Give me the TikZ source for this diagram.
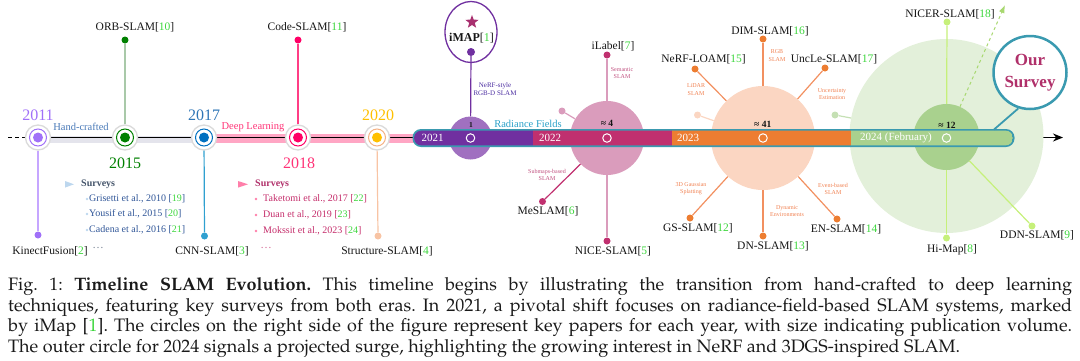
\documentclass[tikz,border=0pt]{standalone}
\usepackage[T1]{fontenc}
\usepackage{fontspec}
\setmainfont{Liberation Serif}
\usetikzlibrary{arrows.meta,shapes.geometric}
\IfFileExists{t1qpl.fd}{%
  \newcommand\capfont{\fontencoding{T1}\fontfamily{qpl}\selectfont\fontsize{18}{20.8}\selectfont}}{%
  \IfFileExists{t1ppl.fd}{%
    \newcommand\capfont{\fontencoding{T1}\fontfamily{ppl}\selectfont\fontsize{18}{20.8}\selectfont}}{%
    \newcommand\capfont{\rmfamily\fontsize{18.5}{20.8}\selectfont}}}
\definecolor{citeg}{HTML}{3CD63C}
\definecolor{lblcol}{HTML}{151515}
\definecolor{c11}{HTML}{A070F8}
\definecolor{c11s}{HTML}{C6A6FF}
\definecolor{c15}{HTML}{008000}
\definecolor{c15s}{HTML}{A9C9A9}
\definecolor{c17}{HTML}{0070C0}
\definecolor{c17y}{HTML}{2E75B6}
\definecolor{c17s}{HTML}{2FA0D0}
\definecolor{c18}{HTML}{FF0066}
\definecolor{c18y}{HTML}{FF3377}
\definecolor{c18s}{HTML}{FF3D85}
\definecolor{c20}{HTML}{FFC000}
\definecolor{c20r}{HTML}{F4B183}
\definecolor{c20s}{HTML}{F8C4A4}
\definecolor{ringgray}{HTML}{DADADA}
\definecolor{bandgray}{HTML}{E4E4EC}
\definecolor{bandpink}{HTML}{FFA6C4}
\definecolor{p21}{HTML}{7030A0}
\definecolor{p21l}{HTML}{A070C0}
\definecolor{p21t}{HTML}{4B2DA0}
\definecolor{starcol}{HTML}{A8306F}
\definecolor{p22}{HTML}{C0306F}
\definecolor{p22l}{HTML}{DA9CBC}
\definecolor{p22t}{HTML}{C0507F}
\definecolor{p23}{HTML}{ED7D31}
\definecolor{p23l}{HTML}{FBD6C2}
\definecolor{p23s}{HTML}{F29060}
\definecolor{p23t}{HTML}{F08050}
\definecolor{p24}{HTML}{A9D18E}
\definecolor{p24l}{HTML}{E3F0DA}
\definecolor{p24s}{HTML}{C6F07A}
\definecolor{p24a}{HTML}{A8D870}
\definecolor{p24d}{HTML}{C5E0B4}
\definecolor{barteal}{HTML}{3A9AB0}
\definecolor{rfblue}{HTML}{2AA0C8}
\definecolor{oscol}{HTML}{B0306A}
\definecolor{hcblue}{HTML}{4A7AB8}
\definecolor{svAh}{HTML}{44546A}
\definecolor{svAi}{HTML}{2F5597}
\definecolor{svAt}{HTML}{BDD7EE}
\definecolor{svBh}{HTML}{B0306A}
\definecolor{svBi}{HTML}{C42C6A}
\definecolor{svBt}{HTML}{FF7FAA}
\definecolor{capcol}{HTML}{1A1A1A}
\newcommand\cit[1]{[\textcolor{citeg}{#1}]}
\begin{document}
\begin{tikzpicture}[x=1pt,y=-1pt,
  lbl/.style={font=\fontsize{11.5}{13}\selectfont, text=lblcol, inner sep=0},
  tinylbl/.style={font=\fontsize{6}{7.5}\selectfont, align=center, inner sep=0},
  yearlbl/.style={font=\fontsize{16}{18}\selectfont, inner sep=0},
  barlbl/.style={font=\fontsize{11}{12}\selectfont, text=white, inner sep=0},
  cntlbl/.style={font=\bfseries\fontsize{9.5}{10}\selectfont, text=lblcol, inner sep=0},
  svitem/.style={font=\fontsize{10}{11}\selectfont, inner sep=0, anchor=west},
  enddot/.style={circle, fill=#1, minimum size=7, inner sep=0},
  outerring/.style={circle, draw=ringgray, line width=1.3, fill=white, minimum size=25, inner sep=0},
  midring/.style={circle, draw=#1, line width=1, minimum size=17, inner sep=0},
  coredot/.style={circle, fill=#1, minimum size=10, inner sep=0},
  bigcirc/.style={circle, fill=#1, inner sep=0},
  wring/.style={circle, draw=white, line width=1, minimum size=8.5, inner sep=0},
  stem/.style={#1, line width=1.2}]
\useasboundingbox (0,0) rectangle (1080,360);

% ---- left part: bands and axis
\draw[bandgray, line width=7] (38,139) -- (204,139);
\draw[bandpink, line width=9] (204,138.5) -- (414,138.5);
\draw[black, line width=1.2, dash pattern=on 4 off 3] (8,137.5) -- (25,137.5);
\coordinate (axs) at (25,137.5);
\coordinate (axe) at (1063,137.5);
\draw[black, line width=1.3, -{Stealth[length=10,width=8]}] (axs) -- (axe);

% ---- year markers
\foreach \n/\x/\cr/\cd in {m11/38/c11/c11, m15/125/c15/c15, m17/204/c17/c17, m18/298/c18/c18, m20/377/c20r/c20}{
  \node[outerring] (\n) at (\x,137.5) {};
  \node[midring=\cr] at (\n) {};
  \node[coredot=\cd] at (\n) {};
}

\node[yearlbl, text=c11] at (38,115) {2011};
\node[yearlbl, text=c15] at (125,163) {2015};
\node[yearlbl, text=c17y] at (204,115) {2017};
\node[yearlbl, text=c18y] at (299,163) {2018};
\node[yearlbl, text=c20] at (378,115) {2020};

\node[font=\fontsize{10.5}{12}\selectfont, text=hcblue, inner sep=0] at (81,127) {Hand-crafted};
\node[font=\fontsize{10.5}{12}\selectfont, text=c18y, inner sep=0] at (253,127) {Deep Learning};

% ---- stems of early years
\node[enddot=c11] (dKF) at (38,235) {};
\draw[stem=c11s] (m11) -- (dKF);
\node[lbl] at (50,251) {KinectFusion\cit{2}};
\node[enddot=c15] (dORB) at (125,40) {};
\draw[stem=c15s] (m15) -- (dORB);
\node[lbl] at (135,27) {ORB-SLAM\cit{10}};
\node[enddot=c17s] (dCNN) at (204.5,236) {};
\draw[stem=c17s] (m17) -- (dCNN);
\node[lbl] at (212,251) {CNN-SLAM\cit{3}};
\node[enddot=c18] (dCode) at (298,40) {};
\draw[stem=c18s] (m18) -- (dCode);
\node[lbl] at (307,27) {Code-SLAM\cit{11}};
\node[enddot=c20s] (dStr) at (378,236) {};
\draw[stem=c20s] (m20) -- (dStr);
\node[lbl] at (387,251) {Structure-SLAM\cit{4}};

% ---- surveys
\fill[svAt] (65,181) -- (74,184.3) -- (65,187.6) -- cycle;
\node[svitem, text=svAh, font=\bfseries\fontsize{10}{11}\selectfont] at (81,184) {Surveys};
\fill[svAt] (87,199) circle (1.4);
\node[svitem, text=svAi] (sA1) at (89,199) {Grisetti et al., 2010 \cit{19}};
\fill[svAt] (87,214) circle (1.4);
\node[svitem, text=svAi] (sA2) at (89,214) {Yousif et al., 2015 \cit{20}};
\fill[svAt] (87,230) circle (1.4);
\node[svitem, text=svAi] (sA3) at (89,230) {Cadena et al., 2016 \cit{21}};
\node[lbl, text=svAh!70] at (98,247.5) {…};
\fill[svBt] (238,181) -- (248,184.3) -- (238,187.6) -- cycle;
\node[svitem, text=svBh, font=\bfseries\fontsize{10}{11}\selectfont] at (255,184) {Surveys};
\fill[svBt] (256,199) circle (1.4);
\node[svitem, text=svBi] (sB1) at (263,199) {Taketomi et al., 2017 \cit{22}};
\fill[svBt] (256,215) circle (1.4);
\node[svitem, text=svBi] (sB2) at (263,215) {Duan et al., 2019 \cit{23}};
\fill[svBt] (256,231) circle (1.4);
\node[svitem, text=svBi] (sB3) at (263,231) {Mokssit et al., 2023 \cit{24}};
\node[lbl, text=svBi!70] at (266,247.5) {…};

% ---- big circles
\node[bigcirc=p21l, minimum size=43] (c21) at (470.5,138) {};
\node[bigcirc=p22l, minimum size=74] (c22) at (607,138) {};
\node[bigcirc=p23l, minimum size=104] (c23) at (763,138) {};
\node[bigcirc=p24l, minimum size=194] (c24o) at (946.5,136) {};
\node[bigcirc=p24, minimum size=66] (c24i) at (946.5,137) {};

% ---- 2021 iMAP
\node[ellipse, draw=p21, line width=1.3, minimum width=52, minimum height=61, inner sep=0] (imapc) at (471,32) {};
\node[star, star points=5, star point ratio=2.4, fill=starcol, minimum size=14, inner sep=0] at (472,22) {};
\node[font=\fontsize{12}{13}\selectfont, text=lblcol, inner sep=0] at (471.5,38) {\textbf{iMAP}\cit{1}};
\node[enddot=p21, minimum size=8] (dIM) at (471,52) {};
\draw[stem=p21] (dIM) -- (c21);
\node[tinylbl, text=p21t, font=\fontsize{7}{8}\selectfont] at (495,89) {NeRF-style\\RGB-D SLAM};

% ---- 2022
\node[enddot=p22] (dIL) at (607,55) {};
\draw[stem=p22l] (dIL) -- (c22);
\node[lbl] at (613,46) {iLabel\cit{7}};
\node[tinylbl, text=p22t] at (622,73) {Semantic\\SLAM};
\node[enddot=p22] (dNICE) at (607,241) {};
\draw[stem=p22l] (dNICE) -- (c22);
\node[lbl] at (613,251) {NICE-SLAM\cit{5}};
\node[enddot=p22] (dMES) at (542.5,201.5) {};
\draw[stem=p22] (dMES) -- (c22);
\node[lbl] at (548,211) {MeSLAM\cit{6}};
\node[tinylbl, text=p22t] at (547,175) {Submaps-based\\SLAM};
\node[enddot=p22l] (dD22) at (562,111) {};
\draw[stem=p22l] (dD22) -- (c22);

% ---- 2023
\node[enddot=p23] (dDIM) at (763,39) {};
\draw[stem=p23s] (dDIM) -- (c23);
\node[lbl] at (770,31) {DIM-SLAM\cit{16}};
\node[tinylbl, text=p23t] at (777,55.5) {RGB\\SLAM};
\node[enddot=p23] (dNL) at (695,69) {};
\draw[stem=p23s] (dNL) -- (c23);
\node[lbl] at (703.5,59.5) {NeRF-LOAM\cit{15}};
\node[tinylbl, text=p23t] at (696,89.5) {LiDAR\\SLAM};
\node[enddot=p23] (dUL) at (825,68) {};
\draw[stem=p23s] (dUL) -- (c23);
\node[lbl] at (834,59) {UncLe-SLAM\cit{17}};
\node[tinylbl, text=p23t] at (832,94) {Uncertainty\\Estimation};
\node[enddot=p23l] (dD23) at (697.5,115) {};
\draw[stem=p23l] (dD23) -- (c23);
\node[enddot=p23] (dGS) at (690,218) {};
\draw[stem=p23s] (dGS) -- (c23);
\node[lbl] at (698,228) {GS-SLAM\cit{12}};
\node[tinylbl, text=p23t] at (691,188.5) {3D Gaussian\\Splatting};
\node[enddot=p23] (dDN) at (763,236) {};
\draw[stem=p23s] (dDN) -- (c23);
\node[lbl] at (773,246) {DN-SLAM\cit{13}};
\node[tinylbl, text=p23t] at (787,211) {Dynamic\\Environments};
\node[enddot=p23] (dEN) at (837,219) {};
\draw[stem=p23s] (dEN) -- (c23);
\node[lbl] at (846,229) {EN-SLAM\cit{14}};
\node[tinylbl, text=p23t] at (833,189) {Event-based\\SLAM};

% ---- 2024
\node[enddot=p24s] (dNIC) at (947,22) {};
\draw[stem=p24s] (dNIC) -- (c24i);
\node[lbl] at (950,14) {NICER-SLAM\cit{18}};
\coordinate (arrEnd) at (1005,5);
\draw[p24a, line width=1, dashed, -{Latex[length=8,width=6]}] (c24i.66) -- (arrEnd);
\node[enddot=p24s] (dHM) at (946.5,238) {};
\draw[stem=p24s] (dHM) -- (c24i);
\node[lbl] at (952,250) {Hi-Map\cit{8}};
\node[enddot=p24s] (dDDN) at (1032,226) {};
\draw[stem=p24s] (dDDN) -- (c24i);
\node[lbl] at (1037,235) {DDN-SLAM\cit{9}};
\node[enddot=p24d] (dD24) at (835,115) {};
\draw[stem=p24d] (dD24) -- (c24o);

% ---- radiance-field bar
\fill[barteal, rounded corners=8.5] (412.5,129) rectangle (1014.5,147);
\begin{scope}
\clip[rounded corners=7] (414.2,130.7) rectangle (1012.8,145.3);
\fill[p21] (414,130) rectangle (533,146);
\fill[p22] (533,130) rectangle (672,146);
\fill[p23] (672,130) rectangle (851,146);
\fill[p24] (851,130) rectangle (1013,146);
\end{scope}
\node[barlbl] at (432.7,138) {2021};
\node[barlbl] at (550,138) {2022};
\node[barlbl] at (688,138) {2023};
\node[barlbl] at (896,138) {2024 (February)};
\node[wring] at (470.5,138) {};
\node[wring] at (607,138) {};
\node[wring] at (763,138) {};
\node[wring] at (946.5,138) {};
\node[font=\fontsize{10.5}{12}\selectfont, text=rfblue, inner sep=0] at (528,123.5) {Radiance Fields};
\node[cntlbl, font=\bfseries\fontsize{7.5}{8}\selectfont] at (471,125) {1};
\node[cntlbl] at (607,123) {≈ 4};
\node[cntlbl] at (762.7,124) {≈ 41};
\node[cntlbl] at (947,125) {≈ 12};

% ---- our survey
\node[circle, draw=barteal, line width=2.5, fill=white, minimum size=73, inner sep=0, align=center,
      font=\bfseries\fontsize{17}{22}\selectfont, text=oscol] (os) at (1030,72.5) {Our\\Survey};
\coordinate (osfoot) at (994,129.5);
\draw[barteal, line width=1.8] (os.-108) -- (osfoot);

% ---- caption
\node[anchor=north west, inner sep=0, text width=1064pt, align=justify, text=capcol,
      font=\capfont] (cap) at (8,277)
{\frenchspacing\hyphenpenalty=10000 Fig. 1: \textbf{Timeline SLAM Evolution.} This timeline begins by illustrating the transition from hand-crafted to deep learning\linebreak
techniques, featuring key surveys from both eras. In 2021, a pivotal shift focuses on radiance-field-based SLAM systems, marked\linebreak
by iMap [\textcolor{citeg}{1}]. The circles on the right side of the figure represent key papers for each year, with size indicating publication volume.\linebreak
The outer circle for 2024 signals a projected surge, highlighting the growing interest in NeRF and 3DGS-inspired SLAM.};
\end{tikzpicture}
\end{document}
